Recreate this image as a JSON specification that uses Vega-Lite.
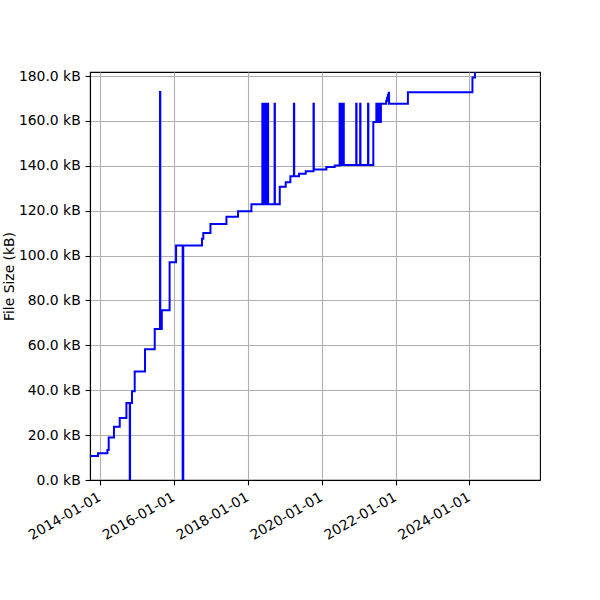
{
  "$schema": "https://vega.github.io/schema/vega-lite/v6.json",
  "width": 450,
  "height": 408,
  "autosize": {"type": "none"},
  "padding": {"left": 90, "top": 72, "right": 60, "bottom": 120},
  "background": "white",
  "config": {
    "view": {"stroke": "black", "strokeWidth": 1.1},
    "font": "DejaVu Sans",
    "axis": {
      "labelFont": "DejaVu Sans",
      "titleFont": "DejaVu Sans",
      "labelColor": "black",
      "titleColor": "black",
      "labelFontSize": 13.9,
      "titleFontSize": 13.9,
      "titleFontWeight": "normal",
      "gridColor": "#b0b0b0",
      "gridWidth": 1.1,
      "gridOpacity": 1,
      "domainColor": "black",
      "domainWidth": 1.1,
      "tickColor": "black",
      "tickSize": 4.9,
      "tickWidth": 1.1,
      "labelPadding": 4.9
    }
  },
  "data": {
    "values": [
      {"date": "2013-09-24", "kb": 10.7},
      {"date": "2013-12-12", "kb": 11.9},
      {"date": "2014-03-15", "kb": 13.4},
      {"date": "2014-03-28", "kb": 18.9},
      {"date": "2014-05-19", "kb": 23.7},
      {"date": "2014-07-15", "kb": 27.6},
      {"date": "2014-09-19", "kb": 34.3},
      {"date": "2014-10-22", "kb": 0},
      {"date": "2014-10-25", "kb": 34.3},
      {"date": "2014-11-13", "kb": 39.6},
      {"date": "2014-12-10", "kb": 48.3},
      {"date": "2015-03-22", "kb": 58.3},
      {"date": "2015-06-26", "kb": 67.3},
      {"date": "2015-08-17", "kb": 172.9},
      {"date": "2015-08-20", "kb": 67.3},
      {"date": "2015-08-28", "kb": 75.6},
      {"date": "2015-09-01", "kb": 67.3},
      {"date": "2015-09-04", "kb": 75.6},
      {"date": "2015-11-20", "kb": 97.0},
      {"date": "2016-01-23", "kb": 104.5},
      {"date": "2016-03-28", "kb": 0},
      {"date": "2016-03-30", "kb": 104.5},
      {"date": "2016-04-01", "kb": 0},
      {"date": "2016-04-03", "kb": 104.5},
      {"date": "2016-10-05", "kb": 107.5},
      {"date": "2016-10-18", "kb": 110.1},
      {"date": "2016-12-28", "kb": 114.1},
      {"date": "2017-06-04", "kb": 117.3},
      {"date": "2017-09-26", "kb": 119.8},
      {"date": "2018-02-06", "kb": 122.9},
      {"date": "2018-05-25", "kb": 167.7},
      {"date": "2018-05-30", "kb": 122.9},
      {"date": "2018-06-03", "kb": 167.7},
      {"date": "2018-06-08", "kb": 122.9},
      {"date": "2018-06-12", "kb": 167.7},
      {"date": "2018-06-17", "kb": 122.9},
      {"date": "2018-06-21", "kb": 167.7},
      {"date": "2018-06-26", "kb": 122.9},
      {"date": "2018-06-30", "kb": 167.7},
      {"date": "2018-07-05", "kb": 122.9},
      {"date": "2018-07-09", "kb": 167.7},
      {"date": "2018-07-14", "kb": 122.9},
      {"date": "2018-07-17", "kb": 167.7},
      {"date": "2018-07-21", "kb": 122.9},
      {"date": "2018-09-23", "kb": 167.7},
      {"date": "2018-09-26", "kb": 122.9},
      {"date": "2018-11-13", "kb": 130.7},
      {"date": "2019-01-11", "kb": 132.7},
      {"date": "2019-02-26", "kb": 135.3},
      {"date": "2019-04-02", "kb": 167.7},
      {"date": "2019-04-05", "kb": 135.3},
      {"date": "2019-05-22", "kb": 136.5},
      {"date": "2019-07-28", "kb": 137.6},
      {"date": "2019-10-13", "kb": 167.7},
      {"date": "2019-10-16", "kb": 138.3},
      {"date": "2020-02-17", "kb": 139.5},
      {"date": "2020-05-09", "kb": 140.1},
      {"date": "2020-06-27", "kb": 167.6},
      {"date": "2020-07-01", "kb": 140.4},
      {"date": "2020-07-05", "kb": 167.6},
      {"date": "2020-07-10", "kb": 140.4},
      {"date": "2020-07-14", "kb": 167.6},
      {"date": "2020-07-19", "kb": 140.4},
      {"date": "2020-07-23", "kb": 167.6},
      {"date": "2020-07-28", "kb": 140.4},
      {"date": "2020-08-01", "kb": 167.6},
      {"date": "2020-08-07", "kb": 140.4},
      {"date": "2020-12-08", "kb": 167.6},
      {"date": "2020-12-11", "kb": 140.4},
      {"date": "2021-01-16", "kb": 167.6},
      {"date": "2021-01-19", "kb": 140.4},
      {"date": "2021-04-04", "kb": 167.6},
      {"date": "2021-04-07", "kb": 140.4},
      {"date": "2021-05-26", "kb": 159.5},
      {"date": "2021-06-25", "kb": 167.6},
      {"date": "2021-06-30", "kb": 159.5},
      {"date": "2021-07-04", "kb": 167.6},
      {"date": "2021-07-09", "kb": 159.5},
      {"date": "2021-07-13", "kb": 167.6},
      {"date": "2021-07-18", "kb": 159.5},
      {"date": "2021-07-22", "kb": 167.6},
      {"date": "2021-07-27", "kb": 159.5},
      {"date": "2021-07-31", "kb": 167.6},
      {"date": "2021-08-04", "kb": 159.5},
      {"date": "2021-08-09", "kb": 167.6},
      {"date": "2021-10-01", "kb": 169.0},
      {"date": "2021-10-09", "kb": 170.3},
      {"date": "2021-10-17", "kb": 171.5},
      {"date": "2021-10-25", "kb": 172.6},
      {"date": "2021-10-29", "kb": 167.6},
      {"date": "2022-05-03", "kb": 172.8},
      {"date": "2024-01-31", "kb": 179.3},
      {"date": "2024-02-25", "kb": 186.0}
    ]
  },
  "mark": {"type": "line", "interpolate": "step-after", "color": "#0000ff", "strokeWidth": 2, "clip": true},
  "encoding": {
    "x": {
      "field": "date",
      "type": "temporal",
      "scale": {
        "type": "utc",
        "domain": [
          {"year": 2013, "month": 9, "date": 24, "utc": true},
          {"year": 2025, "month": 11, "date": 29, "utc": true}
        ]
      },
      "axis": {
        "title": null,
        "labelExpr": "utcFormat(datum.value, '%Y-%m-%d')",
        "values": [
          {"year": 2014, "month": 1, "date": 1, "utc": true},
          {"year": 2016, "month": 1, "date": 1, "utc": true},
          {"year": 2018, "month": 1, "date": 1, "utc": true},
          {"year": 2020, "month": 1, "date": 1, "utc": true},
          {"year": 2022, "month": 1, "date": 1, "utc": true},
          {"year": 2024, "month": 1, "date": 1, "utc": true}
        ],
        "labelAngle": -30,
        "labelAlign": "right",
        "labelBaseline": "top",
        "labelOffset": -4,
        "labelOverlap": false,
        "grid": true
      }
    },
    "y": {
      "field": "kb",
      "type": "quantitative",
      "scale": {"domain": [0, 181.8], "nice": false, "zero": true},
      "axis": {
        "title": "File Size (kB)",
        "values": [0, 20, 40, 60, 80, 100, 120, 140, 160, 180],
        "labelExpr": "format(datum.value, '.1f') + ' kB'",
        "grid": true,
        "titlePadding": 2
      }
    }
  }
}
